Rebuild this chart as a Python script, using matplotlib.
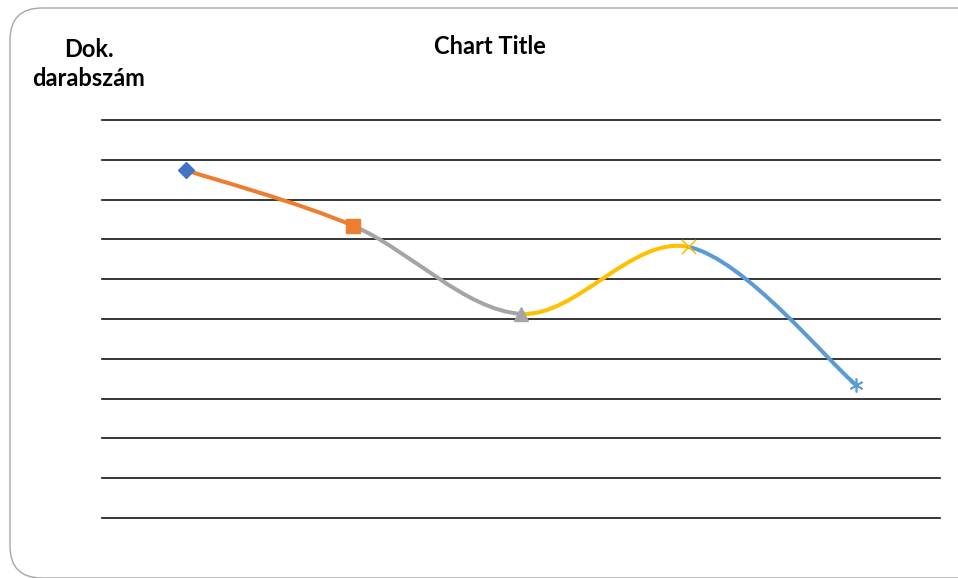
import numpy as np
import matplotlib
matplotlib.use("Agg")
import matplotlib.pyplot as plt
from matplotlib.path import Path
from matplotlib.patches import PathPatch, FancyBboxPatch

plt.rcParams["font.family"] = ["Lato", "DejaVu Sans"]

# data
categories = ["1", "2", "3", "4", "5"]
values = [8.74, 7.34, 5.13, 6.81, 3.34]
colors = ["#4472C4", "#ED7D31", "#A5A5A5", "#FFC000", "#5B9BD5"]
markers = ["D", "s", "^", "x", (6, 2, 0)]
title = "Chart Title"
ylabel = "Dok.\ndarabszám"

fig = plt.figure(figsize=(9.58, 5.78), dpi=100)
ax = fig.add_axes([102 / 958, 60 / 578, 838 / 958, 398 / 578])

x = np.arange(len(values), dtype=float)
y = np.array(values)

# smoothed segments (Catmull-Rom as cubic Bezier), each in the colour of its end point
for i in range(len(x) - 1):
    p0 = np.array([x[max(i - 1, 0)], y[max(i - 1, 0)]])
    p1 = np.array([x[i], y[i]])
    p2 = np.array([x[i + 1], y[i + 1]])
    p3 = np.array([x[min(i + 2, len(x) - 1)], y[min(i + 2, len(x) - 1)]])
    c1 = p1 + (p2 - p0) / 6
    c2 = p2 - (p3 - p1) / 6
    path = Path([p1, c1, c2, p2], [Path.MOVETO, Path.CURVE4, Path.CURVE4, Path.CURVE4])
    ax.add_patch(PathPatch(path, facecolor="none", edgecolor=colors[i + 1], lw=2.9,
                           capstyle="round", zorder=3))

for xi, yi, c, m in zip(x, y, colors, markers):
    if m in ("x", (6, 2, 0)):
        ax.plot(xi, yi, marker=m, color=c, markersize=10, mew=1.2, zorder=4)
    else:
        ms = 8 if m == "D" else 10
        ax.plot(xi, yi, marker=m, color=c, markersize=ms, mec=c, zorder=4)

ax.set_xlim(-0.5, len(values) - 0.5)
ax.set_ylim(0, 10)
ax.set_yticks(np.arange(0, 11, 1))
ax.set_xticks([])
ax.tick_params(left=False, labelleft=False)
ax.grid(axis="y", color="#141414", lw=1.2)
for gl in ax.get_ygridlines():
    gl.set_clip_on(False)
for s in ax.spines.values():
    s.set_visible(False)

fig.text(490 / 958, 1 - 46 / 578, title, ha="center", va="center",
         fontsize=17, fontweight="bold")
fig.text(89 / 958, 1 - 64 / 578, ylabel, ha="center", va="center",
         fontsize=17, fontweight="bold", linespacing=1.3)

# rounded outer frame (inches), right edge runs off the picture
frame = FancyBboxPatch((0.10, 0.0), 9.85, 5.70,
                       boxstyle="round,pad=0,rounding_size=0.32",
                       transform=fig.dpi_scale_trans, facecolor="none",
                       edgecolor="#a6a6a6", lw=1.0, clip_on=False)
fig.patches.append(frame)

fig.savefig("out.png", dpi=100)
